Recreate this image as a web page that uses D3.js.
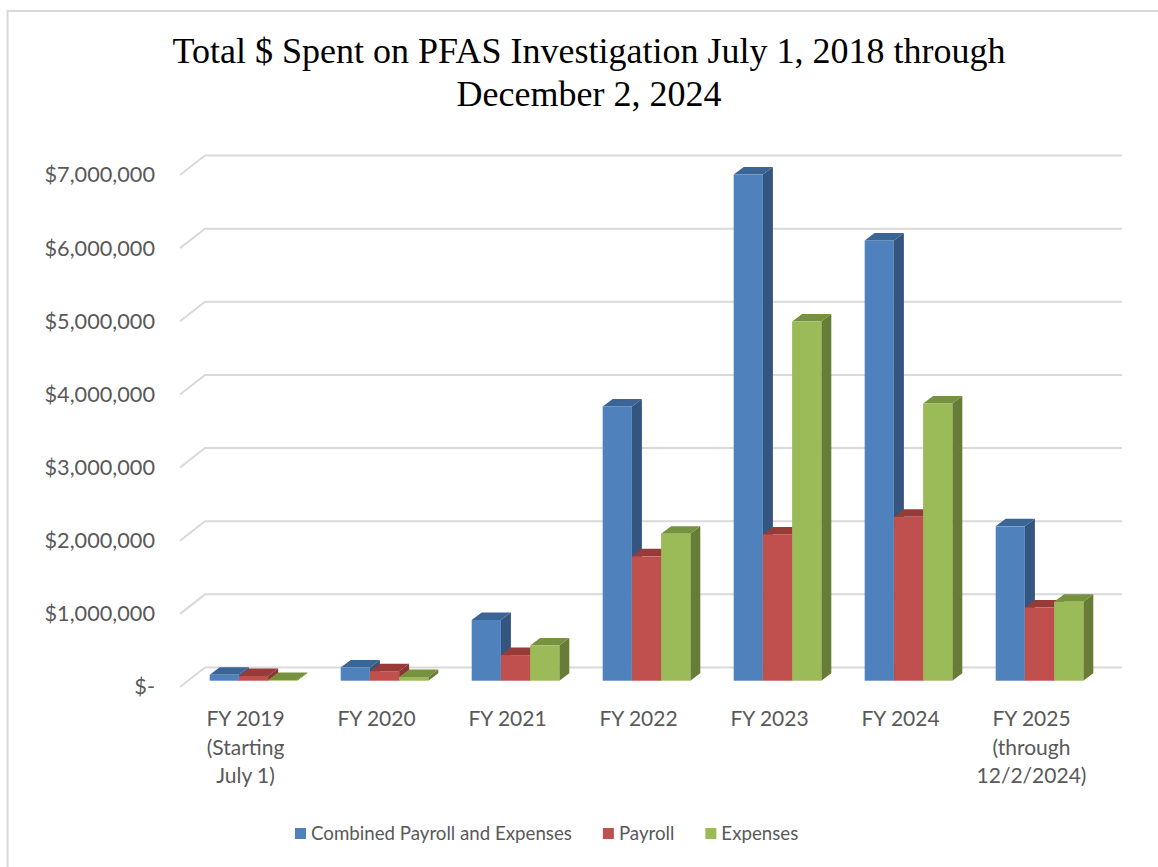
<!DOCTYPE html>
<html>
<head>
<meta charset="utf-8">
<script src="https://cdn.jsdelivr.net/npm/d3@7"></script>
<style>
  body { margin: 0; background: #fff; }
  text { font-family: Lato, "Open Sans", sans-serif; fill: #595959; }
</style>
</head>
<body>
<svg id="chart"></svg>
<script>
// ---- data ----
const categories = ["FY 2019", "FY 2020", "FY 2021", "FY 2022", "FY 2023", "FY 2024", "FY 2025"];
const categoryLines = [
  ["FY 2019", "(Starting", "July 1)"],
  ["FY 2020"],
  ["FY 2021"],
  ["FY 2022"],
  ["FY 2023"],
  ["FY 2024"],
  ["FY 2025", "(through", "12/2/2024)"]
];
const seriesNames = ["Combined Payroll and Expenses", "Payroll", "Expenses"];
const combinedValues = [80000, 180000, 830000, 3750000, 6920000, 6020000, 2110000];
const payrollValues = [65000, 130000, 350000, 1700000, 2000000, 2240000, 1000000];
const expensesValues = [10000, 50000, 480000, 2010000, 4910000, 3790000, 1080000];
const yTicks = [0, 1000000, 2000000, 3000000, 4000000, 5000000, 6000000, 7000000];
const titleLines = ["Total $ Spent on PFAS Investigation July 1, 2018 through", "December 2, 2024"];

const seriesValues = [combinedValues, payrollValues, expensesValues];

// front / top / side shading like the office 3D columns
const colors = [
  {front: "#4f81bd", top: "#3b6597", side: "#34557f"},
  {front: "#c0504d", top: "#973b39", side: "#8a3533"},
  {front: "#9bbb59", top: "#77923e", side: "#677c37"}
];

const W = 1158, H = 867;
const frontLeft = 180, frontRight = 1097;
const wallDx = 25, wallDy = -19.5;      // depth of the back wall
const barOffDx = 8, barOffDy = -6.3;    // where the bar fronts sit in depth
const barDepthDx = 10, barDepthDy = -7.5;

const svg = d3.select("#chart")
  .attr("width", W)
  .attr("height", H);

// chart border
svg.append("rect")
  .attr("x", 7.5).attr("y", 11)
  .attr("width", W + 10).attr("height", H + 10)
  .attr("fill", "none")
  .attr("stroke", "#d9d9d9")
  .attr("stroke-width", 2);

// title
svg.append("g").selectAll("text")
  .data(titleLines)
  .join("text")
  .attr("x", 589)
  .attr("y", (d, i) => 63 + i * 43)
  .attr("text-anchor", "middle")
  .style("font-family", "'Liberation Serif', 'DejaVu Serif', serif")
  .style("font-size", "36px")
  .style("fill", "#000")
  .text(d => d);

// scales
const xCat = d3.scaleBand()
  .domain(categories)
  .range([frontLeft, frontRight])
  .padding(0);

const xSer = d3.scaleBand()
  .domain(seriesNames)
  .range([0, xCat.bandwidth()])
  .paddingInner(0)
  .paddingOuter(0.743);

const y = d3.scaleLinear()
  .domain([0, 7000000])
  .range([687, 175]);

// gridlines: diagonal on the side wall, flat on the back wall
const grid = svg.append("g").attr("class", "grid");
grid.selectAll("path")
  .data(yTicks)
  .join("path")
  .attr("d", d => {
    const yf = y(d);
    return `M${frontLeft},${yf}L${frontLeft + wallDx},${yf + wallDy}L${frontRight + wallDx},${yf + wallDy}`;
  })
  .attr("fill", "none")
  .attr("stroke", "#d9d9d9")
  .attr("stroke-width", 2);

// y axis labels
const fmt = d => d === 0 ? "$-" : d3.format("$,")(d);
const yAxis = d3.axisLeft(y)
  .tickValues(yTicks)
  .tickFormat(fmt)
  .tickSize(0)
  .tickPadding(25);

const yAxisG = svg.append("g")
  .attr("transform", `translate(${frontLeft},0)`)
  .call(yAxis);
yAxisG.select(".domain").remove();
yAxisG.selectAll("text")
  .style("font-family", "Lato, sans-serif")
  .style("font-size", "21.7px")
  .attr("fill", "#595959");

// bars, drawn left to right so the next bar covers the previous side face
const bars = [];
categories.forEach((c, ci) => {
  seriesNames.forEach((s, si) => {
    bars.push({cat: c, ser: s, si: si, value: seriesValues[si][ci]});
  });
});

const barG = svg.append("g").attr("class", "bars");
const barSel = barG.selectAll("g.bar")
  .data(bars)
  .join("g")
  .attr("class", "bar");

const geo = d => {
  const x0 = xCat(d.cat) + xSer(d.ser) + barOffDx;
  const x1 = x0 + xSer.bandwidth();
  const yb = y(0) + barOffDy;
  const yt = y(d.value) + barOffDy;
  return {x0, x1, yb, yt};
};

barSel.append("path")
  .attr("d", d => {
    const g = geo(d);
    return `M${g.x1},${g.yb}L${g.x1},${g.yt}L${g.x1 + barDepthDx},${g.yt + barDepthDy}L${g.x1 + barDepthDx},${g.yb + barDepthDy}Z`;
  })
  .attr("fill", d => colors[d.si].side);

barSel.append("path")
  .attr("d", d => {
    const g = geo(d);
    return `M${g.x0},${g.yt}L${g.x1},${g.yt}L${g.x1 + barDepthDx},${g.yt + barDepthDy}L${g.x0 + barDepthDx},${g.yt + barDepthDy}Z`;
  })
  .attr("fill", d => colors[d.si].top);

barSel.append("rect")
  .attr("x", d => geo(d).x0)
  .attr("y", d => geo(d).yt)
  .attr("width", xSer.bandwidth())
  .attr("height", d => geo(d).yb - geo(d).yt)
  .attr("fill", d => colors[d.si].front);

// category labels (several lines each)
const xLab = svg.append("g").attr("class", "x-labels");
xLab.selectAll("text")
  .data(categories)
  .join("text")
  .attr("text-anchor", "middle")
  .style("font-size", "21px")
  .each(function(c, i) {
    d3.select(this).selectAll("tspan")
      .data(categoryLines[i])
      .join("tspan")
      .attr("x", xCat(c) + xCat.bandwidth() / 2)
      .attr("y", (d, j) => 726 + j * 28.7)
      .text(d => d);
  });

// legend
const legend = svg.append("g").attr("class", "legend");
let lx = 295;
seriesNames.forEach((s, i) => {
  legend.append("rect")
    .attr("x", lx).attr("y", 828)
    .attr("width", 11).attr("height", 11)
    .attr("fill", colors[i].front);
  const t = legend.append("text")
    .attr("x", lx + 16).attr("y", 840)
    .style("font-size", "18.7px")
    .text(s);
  lx += 16 + t.node().getComputedTextLength() + 31;
});
</script>
</body>
</html>
